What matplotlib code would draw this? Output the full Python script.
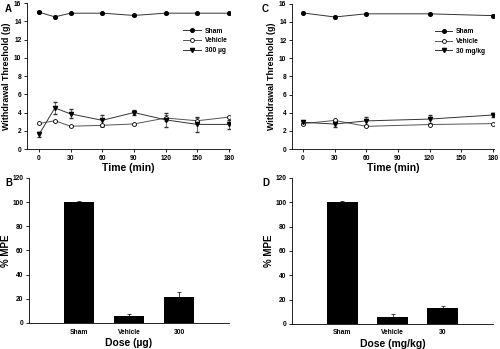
import matplotlib
matplotlib.use("Agg")
import matplotlib.pyplot as plt
from matplotlib.lines import Line2D
import numpy as np

plt.rcParams['font.family'] = ['Liberation Sans', 'DejaVu Sans']
plt.rcParams['font.weight'] = 'bold'

# panel A - intrathecal dose, time course
time_a = [0, 15, 30, 60, 90, 120, 150, 180]
sham_a = [15.0, 14.5, 14.9, 14.9, 14.65, 14.9, 14.9, 14.9]
sham_a_err = [0.1, 0.1, 0.05, 0.05, 0.1, 0.05, 0.05, 0.05]
veh_a = [2.8, 3.1, 2.5, 2.6, 2.75, 3.4, 3.1, 3.5]
veh_a_err = [0.1, 0.1, 0.1, 0.15, 0.1, 0.3, 0.35, 0.1]
drug_a = [1.6, 4.5, 3.85, 3.15, 4.0, 3.2, 2.7, 2.7]
drug_a_err = [0.3, 0.7, 0.5, 0.6, 0.3, 0.8, 0.85, 0.45]

# panel C - systemic dose, time course
time_c = [0, 30, 60, 120, 180]
sham_c = [15.0, 14.55, 14.9, 14.9, 14.7]
sham_c_err = [0.05, 0.1, 0.05, 0.05, 0.1]
veh_c = [2.8, 3.15, 2.5, 2.7, 2.8]
veh_c_err = [0.1, 0.1, 0.1, 0.1, 0.1]
drug_c = [2.95, 2.75, 3.1, 3.3, 3.75]
drug_c_err = [0.15, 0.3, 0.4, 0.45, 0.2]

# panels B / D - %MPE
groups_b = ['Sham', 'Vehicle', '300']
mpe_b = [100, 6, 21.5]
mpe_b_err = [1, 1.7, 3.8]
groups_d = ['Sham', 'Vehicle', '30']
mpe_d = [100, 6, 13]
mpe_d_err = [0.8, 2, 1.8]

fig = plt.figure(figsize=(5, 3.49), dpi=100)

def style(ax):
    ax.spines['top'].set_visible(False)
    ax.spines['right'].set_visible(False)
    for s in ['left', 'bottom']:
        ax.spines[s].set_linewidth(0.6)
    ax.tick_params(labelsize=4.8, width=0.6, length=2, pad=2)
    for lab in ax.get_xticklabels() + ax.get_yticklabels():
        lab.set_fontweight('bold')

sty_sham = dict(color='#333333', lw=0.7, marker='o', ms=2.6, mfc='black', mec='black')
sty_veh = dict(color='#555555', lw=0.7, marker='o', ms=2.8, mfc='white', mec='black', mew=0.6)
sty_drug = dict(color='#333333', lw=0.7, marker='v', ms=3, mfc='black', mec='black')

def time_panel(rect, t, sham, sham_e, veh, veh_e, drug, drug_e, drug_lab, xlim, leg_x):
    ax = fig.add_axes(rect)
    ax.errorbar(t, sham, yerr=sham_e, capsize=1.2, elinewidth=0.5, **sty_sham)
    ax.errorbar(t, veh, yerr=veh_e, capsize=1.2, elinewidth=0.5, **sty_veh)
    ax.errorbar(t, drug, yerr=drug_e, capsize=1.2, elinewidth=0.5, **sty_drug)
    ax.set_xlim(*xlim)
    ax.set_ylim(0, 16)
    ax.set_xticks([0, 30, 60, 90, 120, 150, 180])
    ax.set_yticks(np.arange(0, 17, 2))
    ax.set_xlabel('Time (min)', fontsize=7.5, fontweight='bold', labelpad=1)
    ax.set_ylabel('Withdrawal Threshold (g)', fontsize=6.4, fontweight='bold', labelpad=2)
    handles = [Line2D([], [], **sty_sham), Line2D([], [], **sty_veh), Line2D([], [], **sty_drug)]
    ax.legend(handles, ['Sham', 'Vehicle', drug_lab], loc='upper right',
              bbox_to_anchor=(leg_x, 0.85), frameon=False,
              prop={'size': 4.8, 'weight': 'bold'}, handlelength=2.6,
              handletextpad=0.6, labelspacing=0.4, borderaxespad=0)
    style(ax)
    return ax

def bar_panel(rect, groups, vals, errs, xlab):
    ax = fig.add_axes(rect)
    x = np.arange(len(groups))
    ax.bar(x, vals, width=0.61, color='black',
           yerr=[np.zeros(len(errs)), errs], capsize=1.5,
           error_kw={'elinewidth': 0.5, 'capthick': 0.5, 'ecolor': 'black'})
    ax.set_xlim(-1, 3)
    ax.set_ylim(0, 120)
    ax.set_xticks(x)
    ax.set_xticklabels(groups)
    ax.set_yticks(np.arange(0, 121, 20))
    ax.set_xlabel(xlab, fontsize=7.5, fontweight='bold', labelpad=2)
    ax.set_ylabel('% MPE', fontsize=7, fontweight='bold', labelpad=1)
    style(ax)
    ax.tick_params(axis='x', length=0, pad=4)
    return ax

time_panel([0.054, 0.573, 0.406, 0.418], time_a, sham_a, sham_a_err, veh_a, veh_a_err,
           drug_a, drug_a_err, '300 µg', (-11.4, 181), 1.0)
time_panel([0.584, 0.573, 0.404, 0.416], time_c, sham_c, sham_c_err, veh_c, veh_c_err,
           drug_c, drug_c_err, '30 mg/kg', (-10.4, 181), 0.97)
bar_panel([0.058, 0.0745, 0.400, 0.416], groups_b, mpe_b, mpe_b_err, 'Dose (µg)')
bar_panel([0.584, 0.072, 0.402, 0.418], groups_d, mpe_d, mpe_d_err, 'Dose (mg/kg)')

for lab, x, y in [('A', 0.01, 0.988), ('C', 0.524, 0.988), ('B', 0.01, 0.49), ('D', 0.524, 0.49)]:
    fig.text(x, y, lab, fontsize=7, fontweight='bold', va='top')

fig.savefig('out.png', dpi=100)
